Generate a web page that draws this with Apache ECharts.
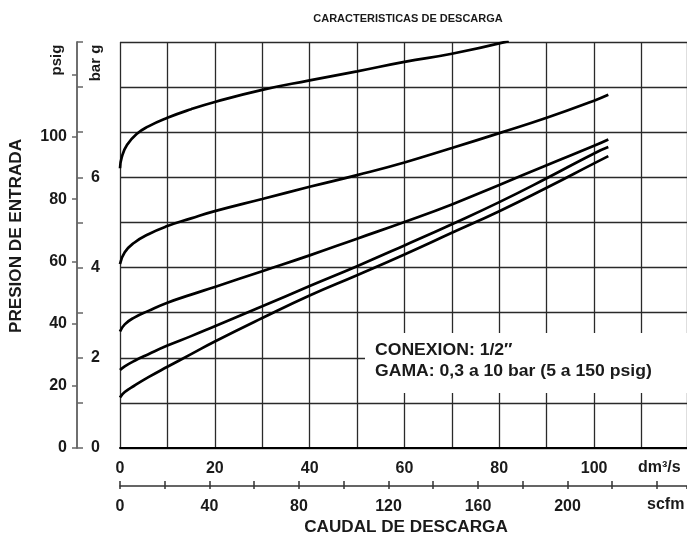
<!DOCTYPE html>
<html>
<head>
<meta charset="utf-8">
<script src="https://cdn.jsdelivr.net/npm/echarts@6/dist/echarts.min.js"></script>
<style>
  html, body { margin: 0; padding: 0; background: #fff; }
  #chart { width: 687px; height: 543px; }
</style>
</head>
<body>
<div id="chart"></div>
<script>
const flowTop = [0, 0.4, 1.5, 3.5, 6, 10, 15, 20, 30, 40, 50, 60, 70, 82];
const barTop  = [6.20, 6.46, 6.72, 6.96, 7.13, 7.32, 7.51, 7.67, 7.94, 8.15, 8.35, 8.56, 8.74, 9.02];

const flowLow = [0, 1, 3, 6, 10, 15, 20, 30, 40, 50, 60, 70, 80, 90, 100, 103];
const barB = [4.08, 4.34, 4.55, 4.74, 4.92, 5.09, 5.25, 5.52, 5.79, 6.05, 6.33, 6.65, 6.98, 7.32, 7.70, 7.83];
const barC = [2.58, 2.74, 2.89, 3.04, 3.22, 3.40, 3.57, 3.92, 4.27, 4.64, 5.01, 5.40, 5.83, 6.27, 6.70, 6.84];
const barD = [1.73, 1.81, 1.93, 2.08, 2.27, 2.48, 2.70, 3.14, 3.59, 4.03, 4.49, 4.96, 5.45, 5.98, 6.53, 6.67];
const barE = [1.12, 1.24, 1.38, 1.57, 1.80, 2.08, 2.36, 2.88, 3.38, 3.83, 4.29, 4.77, 5.25, 5.77, 6.31, 6.47];

// ejes
const flowMax = 119.6;              // dm3/s en el borde derecho
const barMax = 9;
const psigPerBar = 14.5038;
const scfmPerDm3s = 1 / 0.471947;
const psigLabels = [0, 20, 40, 60, 80, 100];
const barLabels = [0, 2, 4, 6];
const dmLabels = [0, 20, 40, 60, 80, 100];
const scfmLabels = [0, 40, 80, 120, 160, 200];

const FONT = '"Liberation Sans", Arial, sans-serif';
const INK = '#1a1a1a';

function pairs(xs, ys) {
    return xs.map((x, i) => [x, ys[i]]);
}

function curve(data) {
    return {
        type: 'line',
        data: data,
        xAxisIndex: 0,
        yAxisIndex: 0,
        symbol: 'none',
        smooth: 0.5,
        clip: true,
        lineStyle: { color: '#000', width: 2.7 },
        z: 5
    };
}

const chart = echarts.init(document.getElementById('chart'));

const option = {
    animation: false,
    backgroundColor: '#fff',
    title: {
        text: 'CARACTERISTICAS DE DESCARGA',
        left: 403,
        top: 8,
        textAlign: 'center',
        textStyle: { fontFamily: FONT, fontSize: 11, fontWeight: 'bold', color: INK }
    },
    grid: { left: 120, right: 0, top: 42, bottom: 95 },
    xAxis: [
        {
            type: 'value', min: 0, max: flowMax, interval: 10,
            axisLine: { show: true, lineStyle: { color: '#000', width: 2 } },
            axisTick: { show: false },
            splitLine: { show: true, showMinLine: true, lineStyle: { color: '#2a2a2a', width: 1.3 } },
            axisLabel: {
                margin: 13, showMaxLabel: false,
                fontFamily: FONT, fontSize: 16, fontWeight: 'bold', color: INK,
                formatter: v => dmLabels.includes(v) ? String(v) : ''
            }
        },
        {
            type: 'value', min: 0, max: flowMax * scfmPerDm3s, interval: 20,
            position: 'bottom', offset: 38,
            axisLine: { show: true, onZero: false, lineStyle: { color: '#333', width: 1.5 } },
            axisTick: { show: true, inside: true, length: 5, lineStyle: { color: '#333', width: 1.5 } },
            splitLine: { show: false },
            axisLabel: {
                margin: 13, showMaxLabel: false,
                fontFamily: FONT, fontSize: 16, fontWeight: 'bold', color: INK,
                formatter: v => scfmLabels.includes(v) ? String(v) : ''
            }
        },
        {
            type: 'value', min: 0, max: flowMax * scfmPerDm3s, interval: 20,
            position: 'bottom', offset: 38,
            axisLine: { show: false, onZero: false },
            axisTick: { show: true, inside: false, length: 3, lineStyle: { color: '#333', width: 1.5 } },
            splitLine: { show: false },
            axisLabel: { show: false }
        }
    ],
    yAxis: [
        {
            type: 'value', min: 0, max: barMax, interval: 1,
            position: 'left', offset: 43,
            axisLine: { show: true, onZero: false, lineStyle: { color: '#666', width: 1.5 } },
            axisTick: { show: true, inside: true, length: 6, lineStyle: { color: '#666', width: 1.5 } },
            splitLine: { show: true, showMaxLine: true, lineStyle: { color: '#2a2a2a', width: 1.3 } },
            axisLabel: {
                inside: true, margin: 14,
                fontFamily: FONT, fontSize: 16, fontWeight: 'bold', color: INK,
                formatter: v => barLabels.includes(v) ? String(v) : ''
            }
        },
        {
            type: 'value', min: 0, max: barMax * psigPerBar, interval: 20,
            position: 'left', offset: 43,
            axisLine: { show: true, onZero: false, lineStyle: { color: '#666', width: 1.5 } },
            axisTick: { show: true, inside: false, length: 5, lineStyle: { color: '#666', width: 1.5 } },
            splitLine: { show: false },
            axisLabel: {
                margin: 10, showMaxLabel: false,
                fontFamily: FONT, fontSize: 16, fontWeight: 'bold', color: INK,
                formatter: v => psigLabels.includes(v) ? String(v) : ''
            }
        }
    ],
    graphic: [
        {
            type: 'text', x: 57, y: 60, rotation: Math.PI / 2,
            style: { text: 'psig', font: 'bold 15px ' + FONT, fill: INK, align: 'center', verticalAlign: 'middle' }
        },
        {
            type: 'text', x: 96, y: 63, rotation: Math.PI / 2,
            style: { text: 'bar g', font: 'bold 15px ' + FONT, fill: INK, align: 'center', verticalAlign: 'middle' }
        },
        {
            type: 'text', x: 17, y: 236, rotation: Math.PI / 2, scaleX: 1.07,
            style: { text: 'PRESION DE ENTRADA', font: 'bold 16px ' + FONT, fill: INK, align: 'center', verticalAlign: 'middle' }
        },
        {
            type: 'text', x: 638, y: 468,
            style: { text: 'dm³/s', font: 'bold 16px ' + FONT, fill: INK, align: 'left', verticalAlign: 'middle' }
        },
        {
            type: 'text', x: 647, y: 505,
            style: { text: 'scfm', font: 'bold 16px ' + FONT, fill: INK, align: 'left', verticalAlign: 'middle' }
        },
        {
            type: 'text', x: 406, y: 528, scaleX: 1.07,
            style: { text: 'CAUDAL DE DESCARGA', font: 'bold 16px ' + FONT, fill: INK, align: 'center', verticalAlign: 'middle' }
        },
        {
            type: 'rect', z: 50,
            shape: { x: 365, y: 333, width: 322, height: 60 },
            style: { fill: '#fff' }
        },
        {
            type: 'text', z: 51, x: 375, y: 351, scaleX: 1.1,
            style: { text: 'CONEXION: 1/2″', font: 'bold 16px ' + FONT, fill: INK, align: 'left', verticalAlign: 'middle' }
        },
        {
            type: 'text', z: 51, x: 375, y: 372, scaleX: 1.1,
            style: { text: 'GAMA: 0,3 a 10 bar (5 a 150 psig)', font: 'bold 16px ' + FONT, fill: INK, align: 'left', verticalAlign: 'middle' }
        }
    ],
    series: [
        curve(pairs(flowTop, barTop)),
        curve(pairs(flowLow, barB)),
        curve(pairs(flowLow, barC)),
        curve(pairs(flowLow, barD)),
        curve(pairs(flowLow, barE))
    ]
};

chart.setOption(option);
</script>
</body>
</html>
